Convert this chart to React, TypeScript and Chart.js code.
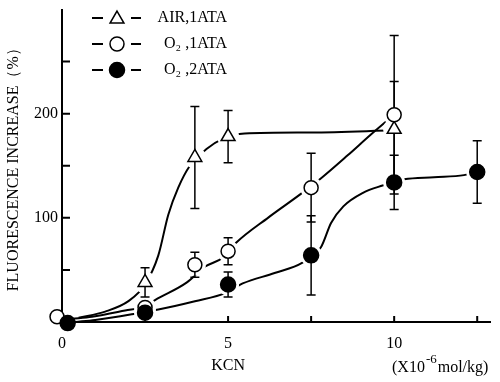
import React, { useEffect, useRef } from 'react';
import { Chart, registerables } from 'chart.js';

Chart.register(...registerables);

// ---- data ----
const airX = [2.5, 4, 5, 10];
const airY = [38, 158, 178, 185];
const airErr = [14, 49, 25, 46];

const o1X = [-0.15, 2.5, 4, 5, 7.5, 10];
const o1Y = [5, 14, 55, 68, 129, 199];
const o1Err = [0, 0, 12, 13, 33, 76];

const o2X = [0.17, 2.5, 5, 7.5, 10, 12.5];
const o2Y = [-1, 9, 36, 64, 134, 144];
const o2Err = [0, 0, 12, 38, 26, 30];

// fitted curves
const airCurveX = [0.5, 1.3, 2.0, 2.5, 2.9, 3.2, 3.5, 3.85, 4.35, 4.85, 5.5, 7.5, 10];
const airCurveY = [4, 10, 20, 36, 64, 103, 129, 150, 166, 176, 181, 182, 184];

const o1CurveX = [0.3, 0.9, 1.9, 2.5, 2.8, 3.76, 4.3, 4.85, 5.24, 6.2, 7.15, 7.8, 8.6, 9.3, 10];
const o1CurveY = [3, 5, 11, 15, 21, 38, 53, 62, 76, 100, 122, 138, 160, 180, 199];

const o2CurveX = [0.4, 1.0, 2.2, 2.9, 4.0, 4.94, 5.44, 6.4, 7.24, 7.8, 8.1, 8.47, 9.06, 9.65, 10.3, 11.2, 12.1, 12.5];
const o2CurveY = [0, 2, 8, 12, 20, 28, 37, 47, 57, 72, 95, 111, 124, 131, 137, 139, 141, 144];

const legendLabels = ['AIR,1ATA', 'O\u2082 ,1ATA', 'O\u2082 ,2ATA'];
const xTickValues = [2.5, 5, 7.5, 10, 12.5];
const xLabelValues = [0, 5, 10];
const yTickValues = [50, 100, 150, 200, 250];
const yLabelValues = [100, 200];
const xTitle = 'KCN';
const yTitle = 'FLUORESCENCE INCREASE\uFF08%\uFF09';
const unitParts = ['(X10', '-6', 'mol/kg)'];

const FONT = '"Liberation Serif", "DejaVu Serif", serif';

const toPts = (xs: number[], ys: number[]) => xs.map((x, i) => ({ x, y: ys[i] }));

function drawMarker(ctx: CanvasRenderingContext2D, kind: string, x: number, y: number) {
  ctx.save();
  ctx.lineWidth = 1.5;
  ctx.strokeStyle = '#000';
  ctx.beginPath();
  if (kind === 'triangle') {
    const r = 8;
    for (let k = 0; k < 3; k++) {
      const a = (k * 2 * Math.PI) / 3;
      const px = x + Math.sin(a) * r;
      const py = y - Math.cos(a) * r;
      if (k === 0) ctx.moveTo(px, py);
      else ctx.lineTo(px, py);
    }
    ctx.closePath();
    ctx.fillStyle = '#fff';
  } else if (kind === 'open') {
    ctx.arc(x, y, 7, 0, Math.PI * 2);
    ctx.fillStyle = '#fff';
  } else {
    ctx.arc(x, y, 7.5, 0, Math.PI * 2);
    ctx.fillStyle = '#000';
  }
  ctx.fill();
  ctx.stroke();
  ctx.restore();
}

const overlay = {
  id: 'overlay',
  beforeDraw(chart: any) {
    chart.$haloDone = false;
  },
  beforeDatasetsDraw(chart: any) {
    const ctx = chart.ctx;
    const xs = chart.scales.x;
    const ys = chart.scales.y;
    const { left, bottom } = chart.chartArea;
    ctx.save();
    ctx.strokeStyle = '#000';
    ctx.lineWidth = 2;
    ctx.beginPath();
    xTickValues.forEach((v) => {
      const px = xs.getPixelForValue(v);
      ctx.moveTo(px, bottom);
      ctx.lineTo(px, bottom - 6);
    });
    yTickValues.forEach((v) => {
      const py = ys.getPixelForValue(v);
      ctx.moveTo(left, py);
      ctx.lineTo(left + 8, py);
    });
    ctx.stroke();
    ctx.restore();
  },
  beforeDatasetDraw(chart: any, args: any) {
    const ds = chart.data.datasets[args.index];
    if (!ds.isMarker || chart.$haloDone) return;
    chart.$haloDone = true;
    const ctx = chart.ctx;
    const xs = chart.scales.x;
    const ys = chart.scales.y;
    const { left, top, right, bottom } = chart.chartArea;
    const markerSets = chart.data.datasets.filter((d: any) => d.isMarker);
    // gaps in the curves around each marker
    ctx.save();
    ctx.beginPath();
    ctx.rect(left + 1.5, top, right - left, bottom - top - 1.5);
    ctx.clip();
    ctx.fillStyle = '#fff';
    markerSets.forEach((d: any) => {
      d.data.forEach((p: any) => {
        if (p.x < 0.5) return;
        ctx.beginPath();
        ctx.arc(xs.getPixelForValue(p.x), ys.getPixelForValue(p.y), 11, 0, Math.PI * 2);
        ctx.fill();
      });
    });
    ctx.restore();
    // error bars
    ctx.save();
    ctx.strokeStyle = '#000';
    ctx.lineWidth = 1.5;
    markerSets.forEach((d: any) => {
      d.data.forEach((p: any, i: number) => {
        const e = d.errors[i];
        if (!e) return;
        const px = xs.getPixelForValue(p.x);
        const y1 = ys.getPixelForValue(p.y + e);
        const y2 = ys.getPixelForValue(p.y - e);
        ctx.beginPath();
        ctx.moveTo(px, y1);
        ctx.lineTo(px, y2);
        ctx.moveTo(px - 4.5, y1);
        ctx.lineTo(px + 4.5, y1);
        ctx.moveTo(px - 4.5, y2);
        ctx.lineTo(px + 4.5, y2);
        ctx.stroke();
      });
    });
    ctx.restore();
  },
  afterDraw(chart: any) {
    const ctx = chart.ctx;
    const xs = chart.scales.x;
    ctx.save();
    ctx.fillStyle = '#000';
    ctx.strokeStyle = '#000';
    // legend
    const kinds = ['triangle', 'open', 'filled'];
    legendLabels.forEach((label, i) => {
      const y = 18 + i * 26;
      ctx.lineWidth = 2;
      ctx.beginPath();
      ctx.moveTo(92, y);
      ctx.lineTo(103, y);
      ctx.moveTo(131, y);
      ctx.lineTo(141, y);
      ctx.stroke();
      drawMarker(ctx, kinds[i], 117, kinds[i] === 'triangle' ? y + 1 : y);
      ctx.font = `16px ${FONT}`;
      ctx.textAlign = 'right';
      ctx.textBaseline = 'middle';
      ctx.fillText(label, 227, y);
    });
    // x title
    ctx.font = `16px ${FONT}`;
    ctx.textAlign = 'center';
    ctx.textBaseline = 'middle';
    ctx.fillText(xTitle, xs.getPixelForValue(5), 366);
    // unit
    ctx.textAlign = 'left';
    ctx.textBaseline = 'alphabetic';
    let ux = 392;
    ctx.font = `16px ${FONT}`;
    ctx.fillText(unitParts[0], ux, 372);
    ux += ctx.measureText(unitParts[0]).width + 1;
    ctx.font = `13px ${FONT}`;
    ctx.fillText(unitParts[1], ux, 363);
    ux += ctx.measureText(unitParts[1]).width + 1;
    ctx.font = `16px ${FONT}`;
    ctx.fillText(unitParts[2], ux, 372);
    ctx.restore();
  },
};

export default function App() {
  const ref = useRef<HTMLCanvasElement | null>(null);
  useEffect(() => {
    document.body.style.margin = '0';
    if (!ref.current) return;
    const curve = (xs: number[], ys: number[]) => ({
      type: 'line' as const,
      data: toPts(xs, ys),
      borderColor: '#000',
      borderWidth: 2,
      pointRadius: 0,
      cubicInterpolationMode: 'monotone' as const,
      fill: false,
      order: 1,
      clip: false as any,
    });
    const marker = (xs: number[], ys: number[], errs: number[], style: string, radius: number, bg: string) => ({
      type: 'line' as const,
      data: toPts(xs, ys),
      errors: errs,
      isMarker: true,
      showLine: false,
      pointStyle: style,
      pointRadius: radius,
      pointBackgroundColor: bg,
      pointBorderColor: '#000',
      pointBorderWidth: 1.5,
      order: 0,
      clip: false as any,
    });
    const noPad = (s: any) => {
      s.paddingTop = 0;
      s.paddingBottom = 0;
      s.paddingLeft = 0;
      s.paddingRight = 0;
    };
    const chart = new Chart(ref.current, {
      type: 'line',
      data: {
        datasets: [
          marker(o2X, o2Y, o2Err, 'circle', 7.5, '#000'),
          marker(o1X, o1Y, o1Err, 'circle', 7, '#fff'),
          marker(airX, airY, airErr, 'triangle', 8, '#fff'),
          curve(airCurveX, airCurveY),
          curve(o1CurveX, o1CurveY),
          curve(o2CurveX, o2CurveY),
        ] as any,
      },
      options: {
        responsive: false,
        animation: false,
        devicePixelRatio: 1,
        layout: { padding: { top: 8, left: 0, right: 0, bottom: 0 } },
        plugins: { legend: { display: false }, tooltip: { enabled: false } },
        scales: {
          x: {
            type: 'linear',
            min: 0,
            max: 12.9,
            grid: { display: false, drawTicks: false },
            border: { display: true, width: 2, color: '#000' },
            ticks: {
              stepSize: 2.5,
              includeBounds: false,
              autoSkip: false,
              maxRotation: 0,
              padding: 12,
              color: '#000',
              font: { family: FONT, size: 16 },
              callback: (v: any) => (xLabelValues.includes(Number(v)) ? String(v) : ''),
            },
            afterFit: (s: any) => {
              s.height = 60;
              noPad(s);
            },
          },
          y: {
            type: 'linear',
            min: 0,
            max: 300,
            grid: { display: false, drawTicks: false },
            border: { display: true, width: 2, color: '#000' },
            title: {
              display: true,
              text: yTitle,
              color: '#000',
              font: { family: FONT, size: 16 },
              padding: { top: 4, bottom: 0 },
            },
            ticks: {
              stepSize: 50,
              includeBounds: false,
              autoSkip: false,
              padding: 4,
              color: '#000',
              font: { family: FONT, size: 16 },
              callback: (v: any) => (yLabelValues.includes(Number(v)) ? String(v) : ''),
            },
            afterFit: (s: any) => {
              s.width = 62;
              noPad(s);
            },
          },
        },
      },
      plugins: [overlay],
    });
    return () => chart.destroy();
  }, []);
  return (
    <div style={{ width: 500, height: 382 }}>
      <canvas ref={ref} width={500} height={382} />
    </div>
  );
}
